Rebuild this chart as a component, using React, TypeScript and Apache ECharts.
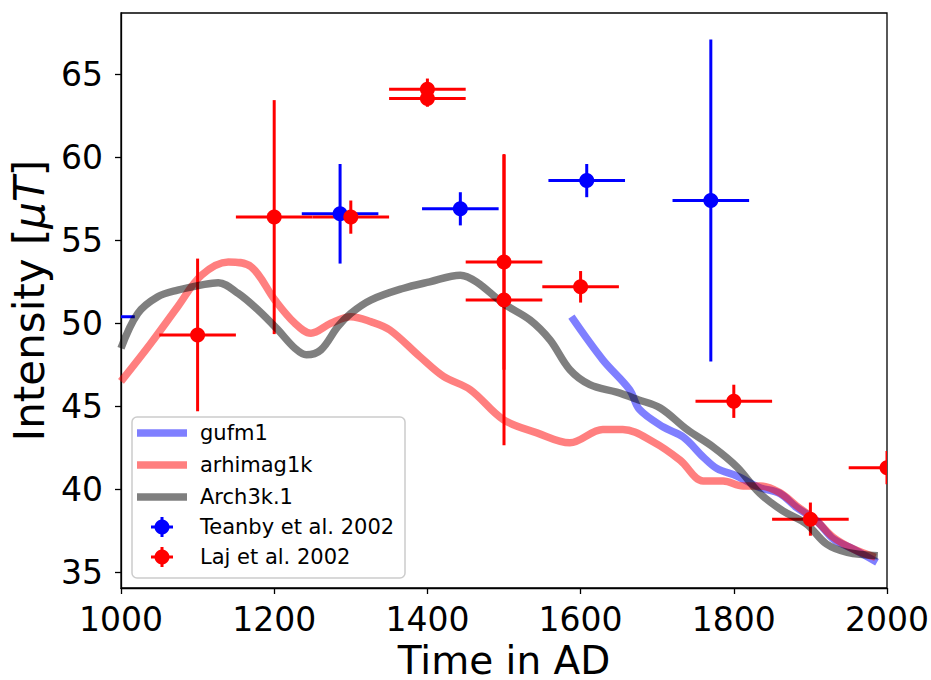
import React, { useEffect, useRef } from "react";
import * as echarts from "echarts";

const xTicks = [1000, 1200, 1400, 1600, 1800, 2000];
const yTicks = [35, 40, 45, 50, 55, 60, 65];

const gufmYears = [1588, 1629, 1664, 1677, 1708, 1734, 1760, 1778, 1804, 1834, 1860, 1882, 1908, 1930, 1956, 1987];
const gufmVals = [50.4, 47.8, 46.0, 44.8, 43.75, 43.15, 41.95, 41.25, 40.8, 40.1, 39.75, 38.9, 38.1, 37.0, 36.4, 35.6];

const arhYears = [1000, 1039, 1074, 1105, 1140, 1170, 1201, 1227, 1248, 1274, 1300, 1326, 1351, 1390, 1421, 1456, 1499, 1543, 1586, 1629, 1655, 1695, 1730, 1760, 1786, 1812, 1834, 1860, 1882, 1908, 1930, 1956, 1985];
const arhVals = [46.5, 48.8, 51.0, 52.9, 53.7, 53.4, 51.4, 50.0, 49.4, 50.0, 50.4, 50.1, 49.6, 48.0, 46.8, 46.0, 44.2, 43.4, 42.8, 43.6, 43.6, 42.85, 41.75, 40.5, 40.5, 40.2, 40.2, 39.8, 39.0, 38.1, 37.1, 36.4, 35.9];

const archYears = [1000, 1022, 1048, 1074, 1109, 1127, 1153, 1179, 1205, 1227, 1242, 1261, 1283, 1300, 1326, 1368, 1403, 1443, 1464, 1499, 1534, 1560, 1586, 1612, 1647, 1675, 1704, 1739, 1773, 1804, 1834, 1864, 1895, 1921, 1948, 1988];
const archVals = [48.5, 50.6, 51.6, 52.0, 52.35, 52.45, 51.8, 50.8, 49.6, 48.5, 48.1, 48.4, 49.8, 50.6, 51.4, 52.1, 52.5, 52.9, 52.5, 51.2, 50.2, 49.0, 47.2, 46.3, 45.85, 45.4, 44.9, 43.6, 42.55, 41.35, 39.75, 38.7, 37.9, 36.7, 36.2, 36.0];

const teanbyX = [968, 1286, 1443, 1608, 1770];
const teanbyY = [50.4, 56.6, 56.9, 58.6, 57.4];
const teanbyXErr = [50, 50, 50, 50, 50];
const teanbyYErr = [1.0, 3.0, 1.0, 1.0, 9.7];

const lajX = [1100, 1200, 1300, 1400, 1400, 1500, 1500, 1600, 1800, 1900, 2000];
const lajY = [49.3, 56.4, 56.4, 64.1, 63.55, 53.7, 51.4, 52.2, 45.3, 38.2, 41.3];
const lajXErr = [50, 50, 50, 50, 50, 50, 50, 50, 50, 50, 50];
const lajYErr = [4.6, 7.05, 1.0, 0.65, 0.5, 6.5, 8.75, 0.95, 1.0, 1.0, 1.0];

const FONT = "DejaVu Sans";

function zip2(a: number[], b: number[]) {
  return a.map((v, i) => [v, b[i]]);
}
function zip4(a: number[], b: number[], c: number[], d: number[]) {
  return a.map((v, i) => [v, b[i], c[i], d[i]]);
}

function barsSeries(name: string, data: number[][], color: string) {
  return {
    type: "custom",
    name,
    clip: true,
    z: 1,
    data,
    renderItem: (params: any, api: any) => {
      const x = api.value(0), y = api.value(1), xe = api.value(2), ye = api.value(3);
      const l = api.coord([x - xe, y]);
      const r = api.coord([x + xe, y]);
      const t = api.coord([x, y + ye]);
      const b = api.coord([x, y - ye]);
      return {
        type: "group",
        children: [
          { type: "line", shape: { x1: l[0], y1: l[1], x2: r[0], y2: r[1] }, style: { stroke: color, lineWidth: 3 } },
          { type: "line", shape: { x1: t[0], y1: t[1], x2: b[0], y2: b[1] }, style: { stroke: color, lineWidth: 3 } },
        ],
      };
    },
  };
}

function markerSeries(name: string, data: number[][], color: string) {
  return {
    type: "custom",
    name: name + " markers",
    clip: true,
    z: 5,
    data,
    renderItem: (params: any, api: any) => {
      const p = api.coord([api.value(0), api.value(1)]);
      return { type: "circle", shape: { cx: p[0], cy: p[1], r: 7.5 }, style: { fill: color } };
    },
  };
}

function lineSeries(name: string, data: number[][], color: string) {
  return {
    type: "line",
    name,
    data,
    z: 3,
    smooth: 0.35,
    showSymbol: false,
    symbol: "none",
    lineStyle: { color, width: 7.5, opacity: 0.5, cap: "butt", join: "round" },
  };
}

export default function App() {
  const ref = useRef<HTMLDivElement>(null);
  useEffect(() => {
    if (!ref.current) return;
    const chart = echarts.init(ref.current, undefined, { renderer: "svg" });

    const lgX = 132, lgY = 417;
    const rowY = [433, 465, 497, 527, 557];
    const legendNames = ["gufm1", "arhimag1k", "Arch3k.1", "Teanby et al. 2002", "Laj et al. 2002"];
    const legendChildren: any[] = [
      {
        type: "rect",
        shape: { x: lgX, y: lgY, width: 273, height: 161, r: 5 },
        style: { fill: "rgba(255,255,255,0.8)", stroke: "#cccccc", lineWidth: 1.5 },
      },
    ];
    const lineColors = ["rgba(0,0,255,0.5)", "rgba(255,0,0,0.5)", "rgba(0,0,0,0.5)"];
    for (let i = 0; i < 3; i++) {
      legendChildren.push({
        type: "line",
        shape: { x1: 137, y1: rowY[i], x2: 187, y2: rowY[i] },
        style: { stroke: lineColors[i], lineWidth: 7.5 },
      });
    }
    const ebColors = ["#0000ff", "#ff0000"];
    for (let j = 0; j < 2; j++) {
      const cy = rowY[3 + j];
      legendChildren.push(
        { type: "line", shape: { x1: 151, y1: cy, x2: 173, y2: cy }, style: { stroke: ebColors[j], lineWidth: 3 } },
        { type: "line", shape: { x1: 162, y1: cy - 10, x2: 162, y2: cy + 10 }, style: { stroke: ebColors[j], lineWidth: 3 } },
        { type: "circle", shape: { cx: 162, cy, r: 7.5 }, style: { fill: ebColors[j] } }
      );
    }
    legendNames.forEach((n, i) => {
      legendChildren.push({
        type: "text",
        x: 200,
        y: rowY[i],
        style: { text: n, font: `21px "${FONT}"`, fill: "#000", verticalAlign: "middle", align: "left" },
      });
    });

    chart.setOption({
      animation: false,
      backgroundColor: "#ffffff",
      grid: {
        left: 121,
        right: 44,
        top: 13,
        bottom: 92,
        show: true,
        borderColor: "#000",
        borderWidth: 1.3,
        backgroundColor: "transparent",
        containLabel: false,
        outerBoundsMode: "none",
      },
      xAxis: {
        type: "value",
        min: 1000,
        max: 2000,
        interval: 200,
        name: "Time in AD",
        nameLocation: "middle",
        nameGap: 38,
        nameTextStyle: { fontFamily: FONT, fontSize: 39, color: "#000" },
        axisLine: { show: true, onZero: false, lineStyle: { color: "#000", width: 1.3 } },
        axisTick: { show: true, length: 6, inside: false, lineStyle: { color: "#000", width: 1.3 }, customValues: xTicks },
        axisLabel: {
          fontFamily: FONT,
          fontSize: 33,
          color: "#000",
          margin: 15,
          customValues: xTicks,
          formatter: (v: number) => String(v),
        },
        splitLine: { show: false },
      },
      yAxis: {
        type: "value",
        min: 34.05,
        max: 68.7,
        name: "Intensity [{i|μT}]",
        nameLocation: "middle",
        nameGap: 64,
        nameRotate: 90,
        nameTextStyle: {
          fontFamily: FONT,
          fontSize: 42,
          color: "#000",
          rich: { i: { fontFamily: FONT, fontSize: 42, fontStyle: "italic", color: "#000" } },
        },
        axisLine: { show: true, onZero: false, lineStyle: { color: "#000", width: 1.3 } },
        axisTick: { show: true, length: 6, inside: false, lineStyle: { color: "#000", width: 1.3 }, customValues: yTicks },
        axisLabel: {
          fontFamily: FONT,
          fontSize: 33,
          color: "#000",
          margin: 18,
          customValues: yTicks,
          formatter: (v: number) => String(v),
        },
        splitLine: { show: false },
      },
      series: [
        barsSeries("Teanby et al. 2002", zip4(teanbyX, teanbyY, teanbyXErr, teanbyYErr), "#0000ff"),
        barsSeries("Laj et al. 2002", zip4(lajX, lajY, lajXErr, lajYErr), "#ff0000"),
        lineSeries("gufm1", zip2(gufmYears, gufmVals), "#0000ff"),
        lineSeries("arhimag1k", zip2(arhYears, arhVals), "#ff0000"),
        lineSeries("Arch3k.1", zip2(archYears, archVals), "#000000"),
        markerSeries("Teanby et al. 2002", zip2(teanbyX, teanbyY), "#0000ff"),
        markerSeries("Laj et al. 2002", zip2(lajX, lajY), "#ff0000"),
      ],
      graphic: [{ type: "group", z: 100, children: legendChildren }],
    });
    return () => chart.dispose();
  }, []);
  return <div ref={ref} style={{ position: "fixed", left: 0, top: 0, width: 931, height: 680 }} />;
}
